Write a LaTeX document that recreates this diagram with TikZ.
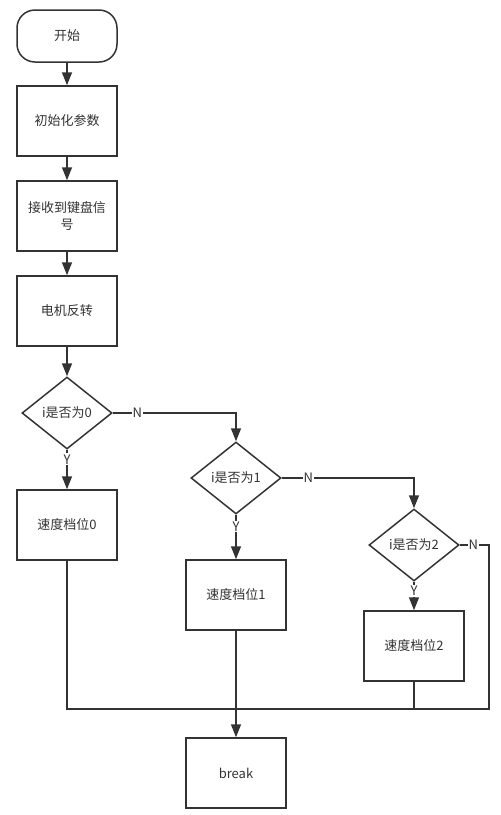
\documentclass[tikz,border=0pt]{standalone}
\usepackage{fontspec}
\setmainfont{Noto Sans CJK SC}
\usepackage{tikz}
\usetikzlibrary{positioning, arrows.meta, shapes.geometric, calc}
\definecolor{flowgray}{HTML}{333333}

\begin{document}
\begin{tikzpicture}[
      x=1pt, y=-1pt,
      every node/.style={font=\fontsize{13pt}{17pt}\selectfont, text=flowgray},
      box/.style={draw=flowgray, line width=1.5pt, fill=white, minimum width=100pt, minimum height=70pt, align=center, inner sep=2pt},
      term/.style={draw=flowgray, line width=1.5pt, fill=white, rounded corners=18pt, minimum width=100pt, minimum height=52pt},
      test/.style={draw=flowgray, line width=1.5pt, fill=white, diamond, minimum width=90pt, minimum height=72pt, inner sep=1pt},
      arr/.style={-{Triangle[length=13pt, width=10pt]}, line width=1.5pt, draw=flowgray},
      line/.style={line width=1.5pt, draw=flowgray},
      lbl/.style={fill=white, inner sep=1pt}
  ]
  \useasboundingbox (0,0) rectangle (501,815);

  \node[term] (start) at (67,36) {开始};
  \node[box] (init) at (67,121) {初始化参数};
  \node[box] (recv) at (67,216) {接收到键盘信\\号};
  \node[box] (rev) at (67,311) {电机反转};
  \node[test] (d0) at (67,413) {i是否为0};
  \node[box] (s0) at (67,525) {速度档位0};
  \node[test] (d1) at (236,478) {i是否为1};
  \node[box] (s1) at (236,595) {速度档位1};
  \node[test] (d2) at (414,545) {i是否为2};
  \node[box] (s2) at (414,646) {速度档位2};
  \node[box] (brk) at (236,773) {break};

  \coordinate (join) at (236,709);
  \coordinate (nright) at (489,709);

  \draw[arr] (start) -- (init);
  \draw[arr] (init) -- (recv);
  \draw[arr] (recv) -- (rev);
  \draw[arr] (rev) -- (d0);

  \draw[arr] (d0) -- node[lbl, pos=0.24] {Y} (s0);
  \draw[arr] (d0.east) -| node[lbl, pos=0.1] {N} (d1.north);
  \draw[arr] (d1) -- node[lbl, pos=0.26] {Y} (s1);
  \draw[arr] (d1.east) -| node[lbl, pos=0.1] {N} (d2.north);
  \draw[arr] (d2) -- node[lbl, pos=0.32] {Y} (s2);
  \draw[line] (d2.east) -| node[lbl, pos=0.23] {N} (nright) -- (join);

  \draw[line] (s0.south) |- (join);
  \draw[line] (s2.south) |- (join);
  \draw[arr] (s1) -- (brk);
\end{tikzpicture}
\end{document}
